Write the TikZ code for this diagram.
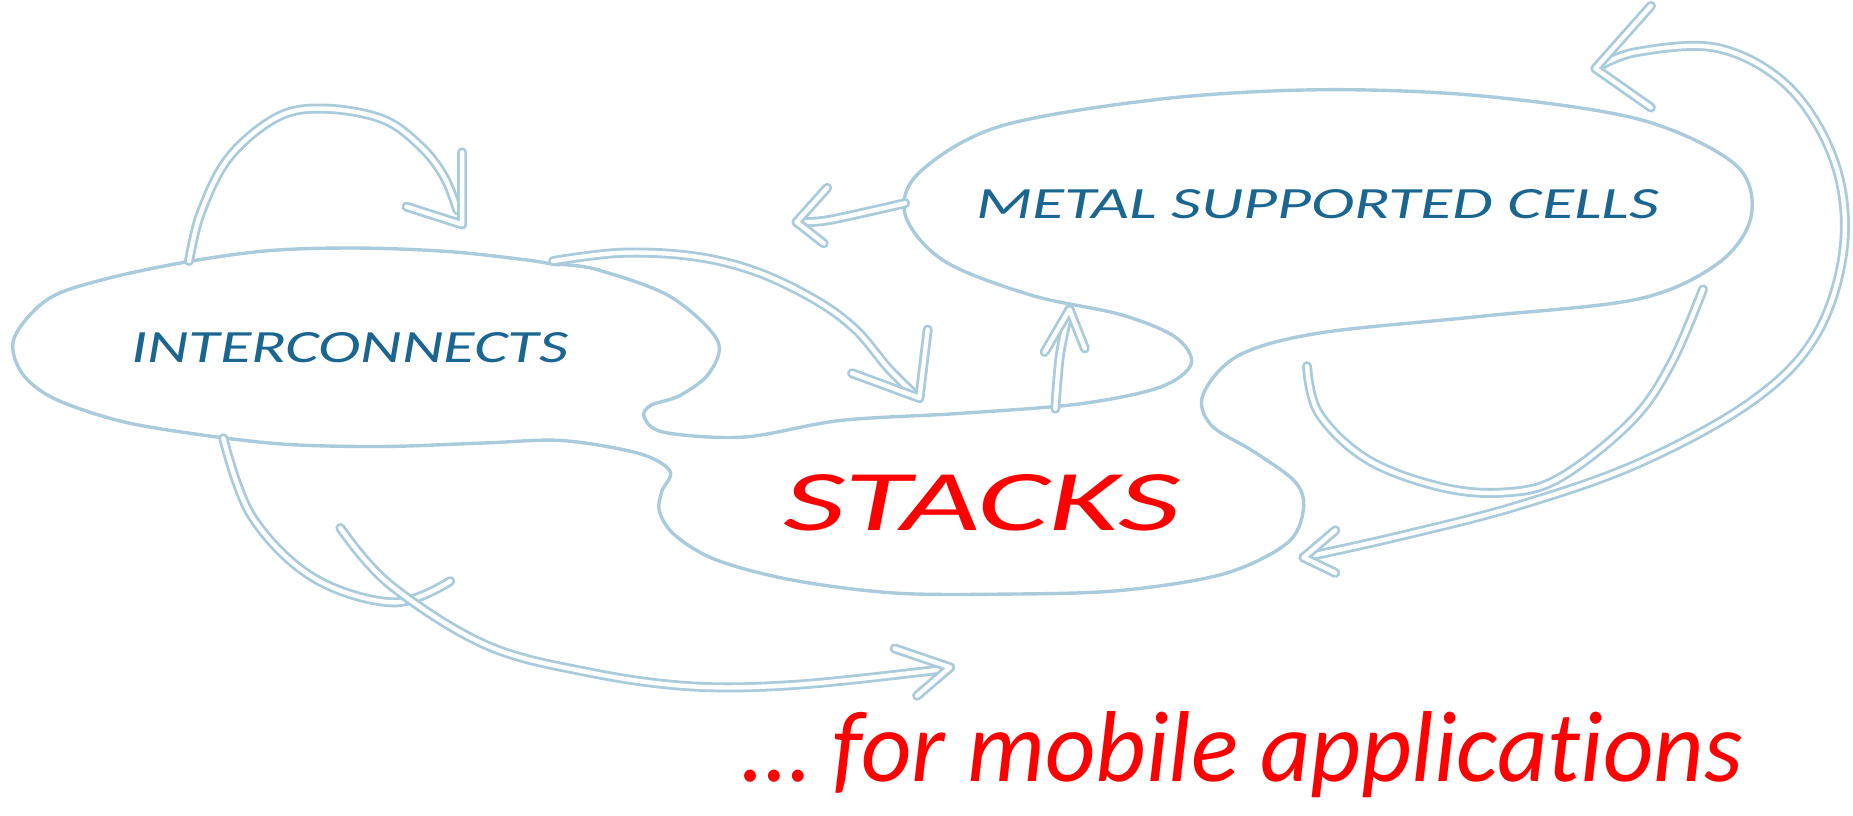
\documentclass[tikz,border=0pt]{standalone}
\usepackage{fontspec}
\setmainfont{Carlito}[Ligatures=NoCommon]
\definecolor{sketch}{HTML}{A9CBDB}
\definecolor{labelblue}{HTML}{1B6690}
\definecolor{hot}{HTML}{FF0000}
\tikzset{
  outline/.style={draw=sketch, line width=3.4pt, line join=round},
  band/.style={draw=sketch, line width=2.8pt, double=white, double distance=4.4pt,
               line cap=round, line join=round},
}
\begin{document}
\begin{tikzpicture}[x=1.1818pt, y=-1.1812pt]
\useasboundingbox (0,0) rectangle (1568,690);

% one closed outline holding the three regions
\draw[outline] plot[smooth cycle, tension=0.55] coordinates {
  (470,224) (445,220) (380,213) (304,210) (230,212) (162,221) (90,236) (41,253)
  (12,286) (18,315) (45,337) (100,356) (162,367) (240,376) (324,378) (411,375)
  (476,373) (541,384) (567,399) (560,416) (558,433) (571,453) (606,474) (670,491)
  (756,502) (850,503) (947,500) (1035,486) (1089,460) (1103,431) (1096,408)
  (1062,383) (1025,360) (1018,334) (1048,301) (1116,282) (1251,268) (1387,253)
  (1455,222) (1482,182) (1468,139) (1387,101) (1251,81) (1116,76) (981,84)
  (846,107) (778,146) (766,182) (799,221) (873,250) (947,266) (994,285)
  (1008,308) (981,328) (913,342) (812,350) (711,356) (630,370) (562,366)
  (545,353) (551,343) (575,335) (600,316) (607,288) (567,251) (508,229) (478,224)
};

% arrow end points
\coordinate (a1s) at (160,221);  \coordinate (a1t) at (391,190);
\coordinate (a2s) at (468,221);  \coordinate (a2t) at (778,337);
\coordinate (a3s) at (893,346);  \coordinate (a3t) at (905,262);
\coordinate (a4s) at (766,172);  \coordinate (a4t) at (674,188);
\coordinate (a5s) at (1350,58);  \coordinate (a5t) at (1103,472);
\coordinate (u1)  at (1106,310); \coordinate (u2)  at (1441,245);
\coordinate (h1)  at (189,371);  \coordinate (h2)  at (381,492);
\coordinate (a6s) at (288,447);  \coordinate (a6t) at (804,565);

% interconnects -> upper loop
\draw[band] plot[smooth, tension=0.6] coordinates {
  (a1s) (170,180) (194,133) (235,99) (275,92) (324,101) (356,124) (376,150) (387,178)};
\draw[band] (391,129) -- (a1t) -- (344,175);

% interconnects -> stacks
\draw[band] plot[smooth, tension=0.6] coordinates {
  (a2s) (526,214) (587,217) (640,230) (690,254) (724,279) (751,311) (772,332)};
\draw[band] (721,316) -- (a2t) -- (785,279);

% stacks -> metal supported cells
\draw[band] plot[smooth, tension=0.6] coordinates {(a3s) (897,300) (a3t)};
\draw[band] (884,298) -- (a3t) -- (918,295);

% metal supported cells -> left
\draw[band] plot[smooth, tension=0.6] coordinates {(a4s) (731,180) (697,187) (a4t)};
\draw[band] (700,159) -- (a4t) -- (697,206);

% open loop under metal supported cells
\draw[band] plot[smooth, tension=0.6] coordinates {
  (u1) (1116,350) (1157,389) (1218,412) (1272,417) (1319,405) (1380,357) (1414,308) (u2)};

% long double-headed arrow on the right
\draw[band] plot[smooth, tension=0.6] coordinates {
  (a5s) (1385,44) (1455,41) (1515,75) (1553,139) (1560,211) (1536,285)
  (1482,340) (1387,392) (1285,428) (1184,454) (a5t)};
\draw[band] (1397,5) -- (a5s) -- (1397,91);
\draw[band] (1130,449) -- (a5t) -- (1130,485);

% hook under interconnects
\draw[band] plot[smooth, tension=0.6] coordinates {
  (h1) (213,437) (265,489) (333,510) (h2)};

% interconnects -> mobile applications
\draw[band] plot[smooth, tension=0.6] coordinates {
  (a6s) (330,495) (411,546) (497,569) (584,581) (670,580) (778,569) (a6t)};
\draw[band] (757,549) -- (a6t) -- (776,589);

% labels
\node[text=labelblue, inner sep=0] (inter) at (296,294.5)
  {\resizebox{437pt}{30pt}{\itshape INTERCONNECTS}};
\node[text=labelblue, inner sep=0] (metal) at (1115,172.6)
  {\resizebox{683pt}{29pt}{\itshape METAL SUPPORTED CELLS}};
\node[text=hot, inner sep=0] (stacks) at (831,425.6)
  {\resizebox{396pt}{56pt}{\itshape STACKS}};
\node[text=hot, inner sep=0, anchor=base west] (mobile) at (628,661.7)
  {\resizebox{1000pt}{70pt}{\itshape … for mobile applications}};
\end{tikzpicture}
\end{document}
